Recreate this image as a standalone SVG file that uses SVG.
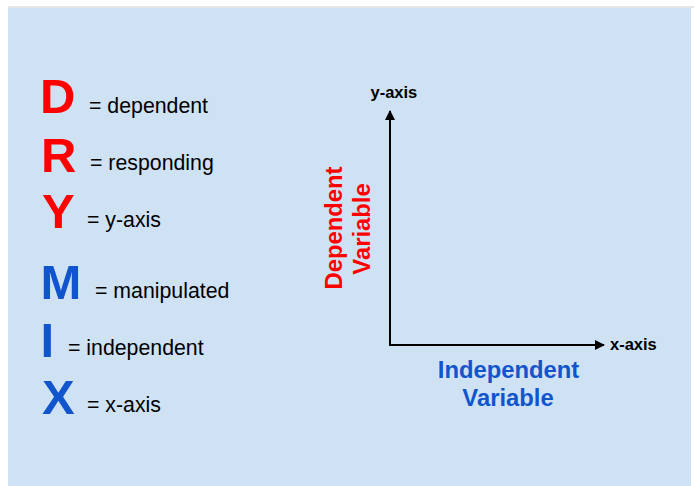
<svg xmlns="http://www.w3.org/2000/svg" width="694" height="486" viewBox="0 0 694 486">
<defs>
<style>
.big{font-family:"Liberation Sans",Arial,sans-serif;font-weight:bold;font-size:49px}
.red{fill:#ff0000}
.blue{fill:#1155cc}
.eq{font-family:"Liberation Sans",Arial,sans-serif;font-size:21.3px;fill:#000}
.ax{font-family:"Liberation Sans",Arial,sans-serif;font-weight:bold;font-size:16.5px;fill:#000}
.var{font-family:"Liberation Sans",Arial,sans-serif;font-weight:bold;font-size:23.8px;text-anchor:middle}
.axis{stroke:#000;stroke-width:2;fill:none}
</style>
<marker id="arr" viewBox="0 0 10 10" refX="9" refY="5" markerWidth="5.5" markerHeight="5" markerUnits="strokeWidth" orient="auto">
<path d="M0,0 L10,5 L0,10 z" fill="#000"/>
</marker>
</defs>
<rect x="8" y="6" width="686" height="2" fill="#e6e6e6"/>
<rect x="8" y="8" width="683" height="478" fill="#cfe2f3"/>
<g id="mnemonic">
<g id="d"><text class="big red" x="40" y="113">D</text><text class="eq" x="89" y="113">= dependent</text></g>
<g id="r"><text class="big red" x="41" y="172">R</text><text class="eq" x="90" y="170">= responding</text></g>
<g id="y"><text class="big red" x="42" y="228">Y</text><text class="eq" x="87" y="227">= y-axis</text></g>
<g id="m"><text class="big blue" x="40.5" y="299">M</text><text class="eq" x="95" y="298">= manipulated</text></g>
<g id="i"><text class="big blue" x="40.5" y="357">I</text><text class="eq" x="68" y="355">= independent</text></g>
<g id="x"><text class="big blue" x="42" y="414">X</text><text class="eq" x="87" y="412">= x-axis</text></g>
</g>
<g id="connectors">
<path class="axis" d="M390,346 L390,111" marker-end="url(#arr)"/>
<path class="axis" d="M389,345 L604,345" marker-end="url(#arr)"/>
</g>
<g id="y-label"><text class="ax" x="370.5" y="98">y-axis</text></g>
<g id="x-label"><text class="ax" x="610" y="350">x-axis</text></g>
<g id="dependent-variable">
<text class="var red" transform="translate(342,228) rotate(-90)" x="0" y="0">Dependent</text>
<text class="var red" transform="translate(370,229) rotate(-90)" x="0" y="0">Variable</text>
</g>
<g id="independent-variable">
<text class="var blue" x="508.5" y="378">Independent</text>
<text class="var blue" x="508" y="406">Variable</text>
</g>
</svg>
